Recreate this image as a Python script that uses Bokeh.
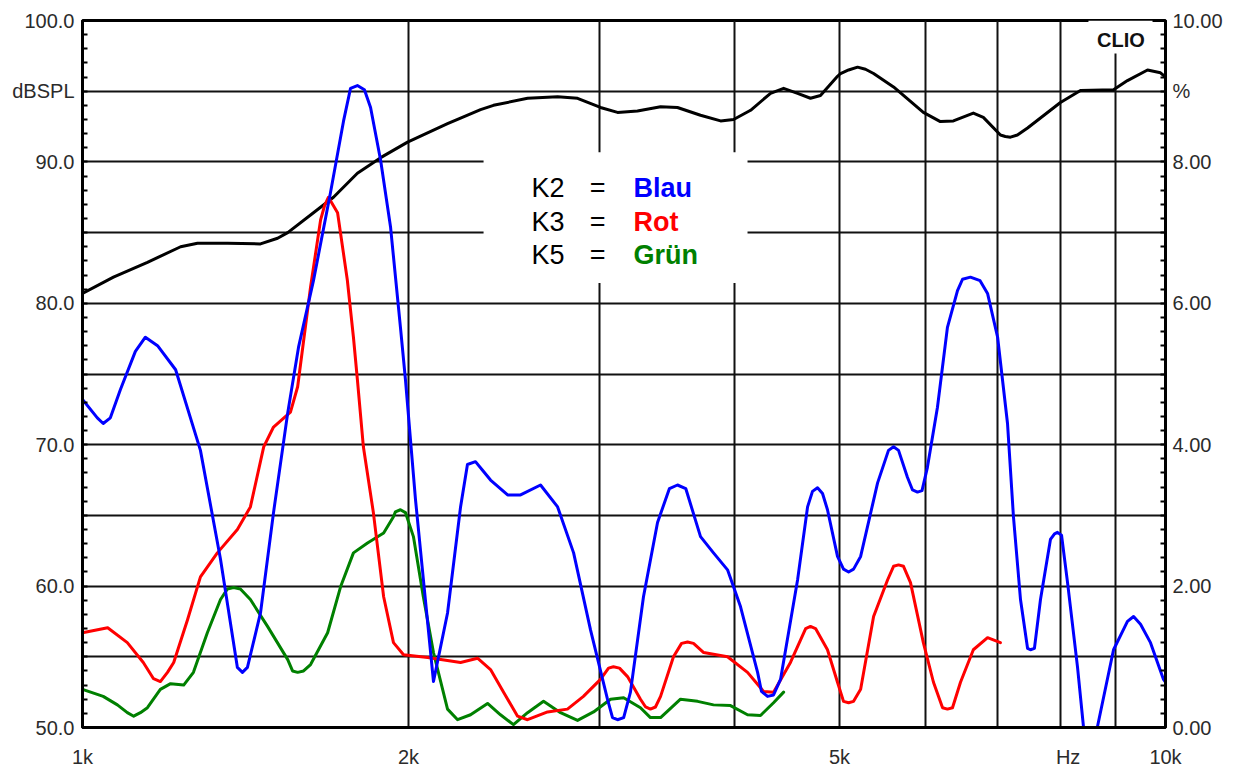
from bokeh.plotting import figure
from bokeh.models import (Range1d, LinearAxis, FixedTicker, CustomJSTickFormatter,
                          BoxAnnotation, Label)
from bokeh.embed import file_html
from bokeh.resources import INLINE

# ---------------- data (Hz, dB SPL) ----------------
spl_f = [1000, 1068, 1148, 1232, 1277, 1361, 1460, 1514, 1547, 1634, 1705, 1794, 1885, 1996,
         2173, 2234, 2331, 2396, 2576, 2746, 2865, 3008, 3119, 3254, 3418, 3543, 3721, 3883,
         3992, 4139, 4318, 4440, 4574, 4701, 4802, 4979, 5011, 5098, 5196, 5284, 5376, 5609,
         5976, 6196, 6370, 6646, 6789, 7040, 7114, 7192, 7299, 7458, 7998, 8346, 8954, 9223,
         9625, 9894, 10000]
spl_db = [80.7, 81.85, 82.9, 84.0, 84.25, 84.25, 84.2, 84.6, 85.0, 86.4, 87.5, 89.2, 90.3, 91.4,
          92.7, 93.1, 93.7, 94.0, 94.5, 94.6, 94.5, 93.85, 93.5, 93.6, 93.9, 93.85, 93.3, 92.9,
          93.0, 93.65, 94.85, 95.2, 94.85, 94.5, 94.7, 96.05, 96.25, 96.5, 96.7, 96.55, 96.25, 95.3,
          93.5, 92.85, 92.9, 93.45, 93.15, 91.9, 91.8, 91.75, 91.9, 92.4, 94.2, 95.05, 95.1, 95.75,
          96.5, 96.3, 96.0]

k2_f = [1000, 1032, 1045, 1061, 1084, 1119, 1143, 1173, 1219, 1285, 1341, 1390, 1405, 1420,
        1460, 1501, 1547, 1583, 1634, 1694, 1742, 1768, 1794, 1821, 1845, 1885, 1925, 1966,
        1987, 2030, 2073, 2109, 2173, 2234, 2267, 2306, 2346, 2381, 2469, 2538, 2648, 2746,
        2841, 2945, 3053, 3086, 3119, 3160, 3206, 3296, 3396, 3483, 3543, 3606, 3721, 3825,
        3941, 4051, 4201, 4236, 4291, 4346, 4411, 4574, 4672, 4721, 4772, 4823, 4874, 4979,
        5043, 5098, 5152, 5230, 5422, 5549, 5609, 5669, 5777, 5840, 5902, 5959, 6028, 6158,
        6290, 6426, 6495, 6605, 6742, 6850, 6998, 7147, 7238, 7347, 7458, 7504, 7568, 7666,
        7830, 7898, 7948, 8017, 8120, 8293, 8401, 8522, 8650, 8954, 9223, 9344, 9483, 9686,
        9958, 10000]
k2_db = [73.2, 71.9, 71.5, 71.9, 73.9, 76.6, 77.6, 77.0, 75.3, 69.6, 61.9, 54.25, 53.9, 54.25,
         58.1, 65.2, 72.25, 76.9, 81.6, 87.8, 92.9, 95.2, 95.4, 95.1, 93.85, 90.1, 85.4, 78.3,
         74.6, 66.1, 59.05, 53.25, 58.1, 65.6, 68.6, 68.8, 68.1, 67.5, 66.45, 66.45, 67.15, 65.6,
         62.35, 56.9, 52.0, 50.7, 50.55, 50.7, 52.5, 59.25, 64.5, 66.9, 67.15, 66.9, 63.5, 62.35,
         61.15, 58.55, 53.9, 52.55, 52.2, 52.3, 53.4, 60.45, 65.6, 66.7, 66.95, 66.55, 65.4, 62.1,
         61.2, 61.0, 61.2, 62.1, 67.3, 69.6, 69.85, 69.6, 67.7, 66.8, 66.65, 66.75, 68.4, 72.65,
         78.3, 80.9, 81.7, 81.85, 81.6, 80.7, 77.6, 71.5, 64.9, 59.05, 55.6, 55.5, 55.6, 59.05,
         63.3, 63.7, 63.8, 63.6, 60.25, 54.3, 50.0, 47.5, 50.0, 55.5, 57.5, 57.85, 57.3, 56.0,
         53.4, 53.2]

k3_f = [1000, 1055, 1100, 1138, 1163, 1180, 1198, 1214, 1250, 1285, 1332, 1390, 1429, 1470,
        1501, 1556, 1580, 1624, 1659, 1673, 1687, 1705, 1720, 1756, 1779, 1794, 1817, 1856,
        1897, 1937, 1979, 2083, 2234, 2316, 2381, 2448, 2522, 2576, 2688, 2804, 2901, 3008,
        3060, 3092, 3132, 3186, 3275, 3311, 3345, 3381, 3418, 3513, 3574, 3620, 3666, 3746,
        3941, 4112, 4255, 4346, 4505, 4653, 4701, 4752, 4874, 4979, 5043, 5098, 5152, 5230,
        5376, 5539, 5609, 5669, 5729, 5815, 5976, 6106, 6225, 6290, 6358, 6467, 6646, 6850,
        7040]
k3_db = [56.7, 57.05, 56.0, 54.6, 53.45, 53.25, 53.9, 54.6, 57.6, 60.65, 62.35, 64.0, 65.6, 69.85,
         71.25, 72.3, 74.1, 81.15, 85.9, 86.9, 87.5, 86.9, 86.4, 81.65, 77.6, 74.6, 69.85, 65.2,
         59.25, 56.0, 55.15, 54.95, 54.6, 54.9, 54.1, 52.5, 50.8, 50.55, 51.1, 51.3, 52.2, 53.4,
         54.2, 54.3, 54.2, 53.6, 52.0, 51.45, 51.3, 51.45, 52.2, 55.0, 55.95, 56.05, 55.95, 55.3,
         55.0, 53.9, 52.55, 52.5, 54.6, 57.0, 57.15, 57.0, 55.5, 53.2, 51.85, 51.75, 51.85, 52.7,
         57.85, 60.45, 61.4, 61.5, 61.4, 60.25, 56.0, 53.2, 51.4, 51.3, 51.4, 53.2, 55.5, 56.35,
         56.0]

k5_f = [1000, 1045, 1077, 1100, 1115, 1131, 1148, 1180, 1206, 1240, 1266, 1304, 1341, 1361,
        1379, 1399, 1429, 1482, 1547, 1563, 1580, 1600, 1624, 1684, 1731, 1779, 1833, 1897,
        1937, 1945, 1966, 1987, 2021, 2064, 2109, 2173, 2220, 2282, 2366, 2432, 2500, 2576,
        2665, 2763, 2865, 2964, 3073, 3160, 3275, 3345, 3418, 3566, 3698, 3825, 3966, 4112,
        4227, 4346, 4440]
k5_db = [52.7, 52.2, 51.6, 51.05, 50.8, 51.05, 51.4, 52.7, 53.1, 53.0, 53.9, 56.7, 59.05, 59.8,
         59.9, 59.8, 59.05, 57.15, 54.8, 54.0, 53.9, 54.0, 54.45, 56.7, 59.95, 62.35, 63.05, 63.75,
         64.9, 65.25, 65.4, 65.2, 63.5, 59.25, 55.3, 51.3, 50.55, 50.9, 51.7, 50.9, 50.2, 51.05,
         51.85, 51.05, 50.5, 51.1, 52.0, 52.1, 51.4, 50.7, 50.7, 52.0, 51.85, 51.6, 51.55, 50.9,
         50.85, 51.75, 52.5]

# axis ticks / labels
x_label_ticks = [1000, 2000, 5000, 8130, 10000]
x_label_texts = ["1k", "2k", "5k", "Hz", "10k"]
x_grid_ticks = [2000, 3000, 4000, 5000, 6000, 7000, 8000, 9000]
y_grid_ticks = [55, 60, 65, 70, 75, 80, 85, 90, 95]
left_ticks = [50, 60, 70, 80, 90, 95, 100]
left_texts = ["50.0", "60.0", "70.0", "80.0", "90.0", "dBSPL", "100.0"]
right_ticks = [0, 2, 4, 6, 8, 9, 10]
right_texts = ["0.00", "2.00", "4.00", "6.00", "8.00", "%", "10.00"]

legend_keys = ["K2", "K3", "K5"]
legend_names = ["Blau", "Rot", "Grün"]
legend_colors = ["#0000ff", "#ff0000", "#008000"]

FONT = "Liberation Sans"
TXT = "#2b2b2b"

p = figure(width=1237, height=770, x_axis_type="log", output_backend="svg",
           toolbar_location=None, x_range=Range1d(1000, 10000), y_range=Range1d(50, 100),
           min_border_left=82, min_border_right=72, min_border_top=20, min_border_bottom=42)
p.background_fill_color = "white"
p.border_fill_color = "white"
p.outline_line_color = "black"
p.outline_line_width = 3

# grid
p.xgrid.ticker = FixedTicker(ticks=x_grid_ticks)
p.ygrid.ticker = FixedTicker(ticks=y_grid_ticks)
for g in (p.xgrid[0], p.ygrid[0]):
    g.grid_line_color = "#111111"
    g.grid_line_width = 2

# x axis
xa = p.xaxis[0]
xa.ticker = FixedTicker(ticks=x_label_ticks)
xmap = ", ".join(f"{t}: '{s}'" for t, s in zip(x_label_ticks, x_label_texts))
xa.formatter = CustomJSTickFormatter(code=f"const m = {{{xmap}}}; const r = m[Math.round(tick)]; return r === undefined ? '' : r;")
xa.major_tick_in = 0
xa.major_tick_out = 0
xa.minor_tick_in = 0
xa.minor_tick_out = 0
xa.axis_line_width = 3
xa.major_label_standoff = 18

# left axis
ya = p.yaxis[0]
minor_left = [v for v in range(51, 100)]
ya.ticker = FixedTicker(ticks=left_ticks, minor_ticks=minor_left)
ya.major_label_overrides = {t: s for t, s in zip(left_ticks, left_texts)}
ya.major_tick_in = 0
ya.major_tick_out = 0
ya.minor_tick_in = 5
ya.minor_tick_out = 0
ya.minor_tick_line_width = 2
ya.axis_line_width = 3
ya.major_label_standoff = 8

# right axis
p.extra_y_ranges = {"pct": Range1d(0, 10)}
ra = LinearAxis(y_range_name="pct")
minor_right = [round(v * 0.2, 1) for v in range(1, 50)]
ra.ticker = FixedTicker(ticks=right_ticks, minor_ticks=minor_right)
ra.major_label_overrides = {t: s for t, s in zip(right_ticks, right_texts)}
ra.major_tick_in = 0
ra.major_tick_out = 0
ra.minor_tick_in = 5
ra.minor_tick_out = 0
ra.minor_tick_line_width = 2
ra.axis_line_width = 3
ra.major_label_standoff = 7
p.add_layout(ra, "right")

for ax in (xa, ya, ra):
    ax.major_label_text_font = FONT
    ax.major_label_text_font_size = "20px"
    ax.major_label_text_color = TXT
    ax.axis_line_color = "black"

# curves
style = dict(line_width=3, line_join="round", line_cap="round")
p.line(spl_f, spl_db, line_color="black", **style)
p.line(k5_f, k5_db, line_color="#008000", **style)
p.line(k3_f, k3_db, line_color="#ff0000", **style)
p.line(k2_f, k2_db, line_color="#0000ff", **style)

# white boxes behind legend text and CLIO logo
p.add_layout(BoxAnnotation(left=2346, right=4112, bottom=81.43, top=90.68,
                           fill_color="white", fill_alpha=1, line_alpha=0))
p.add_layout(BoxAnnotation(left=8489, right=9728, bottom=97.67, top=100,
                           fill_color="white", fill_alpha=1, line_alpha=0))

legend_y = [88.14, 85.73, 83.4]
for key, name, col, yy in zip(legend_keys, legend_names, legend_colors, legend_y):
    p.add_layout(Label(x=2598, y=yy, text=key, text_font=FONT, text_font_size="27px",
                       text_color="black", text_baseline="alphabetic"))
    p.add_layout(Label(x=2990, y=yy, text="=", text_font=FONT, text_font_size="27px",
                       text_color="black", text_baseline="alphabetic", text_align="center"))
    p.add_layout(Label(x=3227, y=yy, text=name, text_font=FONT, text_font_size="27px",
                       text_font_style="bold", text_color=col, text_baseline="alphabetic"))

p.add_layout(Label(x=9095, y=98.65, text="CLIO", text_font=FONT, text_font_size="20px",
                   text_font_style="bold", text_color="#111111", text_align="center",
                   text_baseline="middle"))

open("out.html", "w").write(file_html(p, INLINE))
